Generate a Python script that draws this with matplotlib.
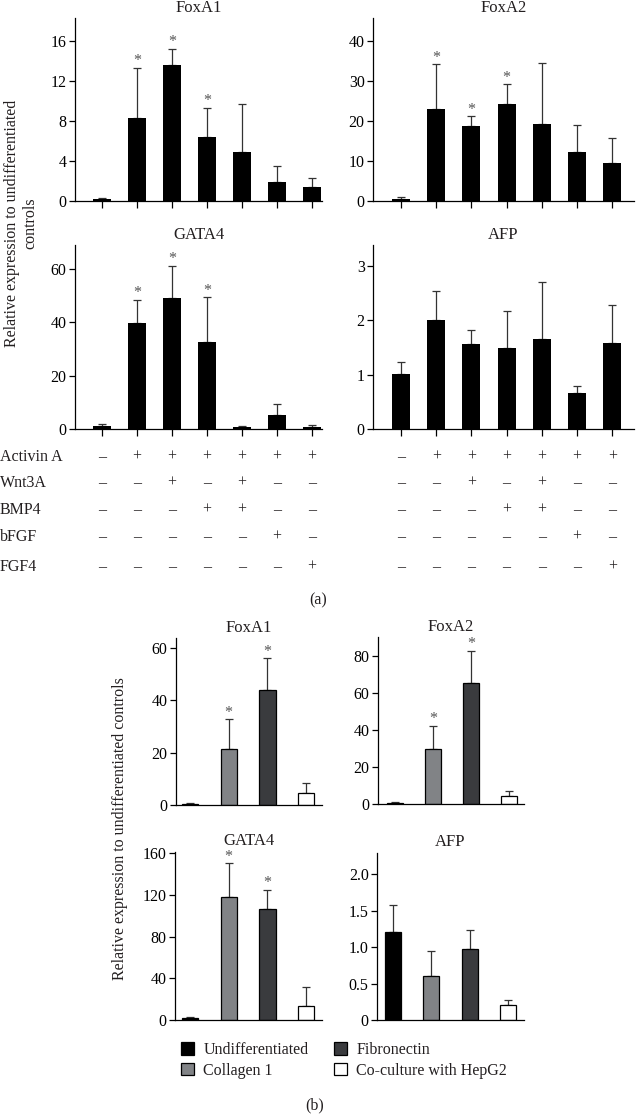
import numpy as np
import matplotlib
matplotlib.use("Agg")
import matplotlib.pyplot as plt
from matplotlib.patches import Patch
import matplotlib.transforms as mtransforms

plt.rcParams['font.family'] = ['Liberation Serif', 'DejaVu Serif']
plt.rcParams['font.size'] = 11.5
plt.rcParams['text.color'] = '#231f20'
plt.rcParams['axes.linewidth'] = 0.9

# ---- data, panel (a): 7 treatment conditions ----
foxa1_a = [0.2, 8.35, 13.65, 6.4, 4.9, 1.95, 1.45]
foxa1_a_top = [0.35, 13.3, 15.25, 9.3, 9.75, 3.55, 2.3]
foxa2_a = [0.4, 22.9, 18.8, 24.2, 19.3, 12.3, 9.4]
foxa2_a_top = [1.0, 34.2, 21.2, 29.2, 34.5, 19.0, 15.8]
gata4_a = [1.1, 39.7, 49.3, 32.7, 0.9, 5.2, 0.75]
gata4_a_top = [2.0, 48.5, 61.1, 49.4, 1.2, 9.2, 1.6]
afp_a = [1.02, 2.01, 1.56, 1.50, 1.66, 0.66, 1.59]
afp_a_top = [1.24, 2.55, 1.83, 2.18, 2.70, 0.79, 2.28]
stars_a = {'FoxA1': [1, 2, 3], 'FoxA2': [1, 2, 3], 'GATA4': [1, 2, 3], 'AFP': []}

factors = ['Activin A', 'Wnt3A', 'BMP4', 'bFGF', 'FGF4']
table = [
    [0, 1, 1, 1, 1, 1, 1],
    [0, 0, 1, 0, 1, 0, 0],
    [0, 0, 0, 1, 1, 0, 0],
    [0, 0, 0, 0, 0, 1, 0],
    [0, 0, 0, 0, 0, 0, 1],
]

# ---- data, panel (b): 4 culture conditions ----
groups_b = ['Undifferentiated', 'Collagen 1', 'Fibronectin', 'Co-culture with HepG2']
colors_b = ['#000000', '#818386', '#3a3b3e', '#ffffff']
foxa1_b = [0.4, 21.4, 43.9, 4.6]
foxa1_b_top = [0.9, 32.8, 56.1, 8.5]
foxa2_b = [0.5, 30.0, 65.6, 4.5]
foxa2_b_top = [1.3, 42.2, 82.9, 6.8]
gata4_b = [1.5, 118.0, 106.6, 13.0]
gata4_b_top = [2.5, 150.0, 125.0, 31.7]
afp_b = [1.20, 0.61, 0.97, 0.21]
afp_b_top = [1.58, 0.94, 1.24, 0.275]
stars_b = {'FoxA1': [1, 2], 'FoxA2': [1, 2], 'GATA4': [1, 2], 'AFP': []}

W, H = 636, 1114
fig = plt.figure(figsize=(W / 100, H / 100), dpi=100)


def add_ax(L, T, R, B):
    return fig.add_axes([L / W, 1 - B / H, (R - L) / W, (B - T) / H])


def style(ax, xticks):
    for s in ['top', 'right']:
        ax.spines[s].set_visible(False)
    ax.tick_params(axis='y', direction='out', length=4, width=0.9, pad=2, labelsize=11.5)
    if xticks:
        ax.tick_params(axis='x', direction='out', length=5, width=0.9, labelbottom=False)
    else:
        ax.tick_params(axis='x', length=0, labelbottom=False)


def panel(ax, title, vals, tops, stars, colors, width, ylim, yticks, ylabels, xlim, edge, xticks,
          tpad=4):
    x = np.arange(len(vals))
    err = np.array(tops) - np.array(vals)
    ax.errorbar(x, vals, yerr=[np.zeros(len(vals)), err], fmt='none', ecolor='#333333',
                elinewidth=0.9, capsize=3, capthick=0.9, zorder=1)
    ax.bar(x, vals, width=width, color=colors, edgecolor='black' if edge else colors,
           linewidth=0.9 if edge else 0, zorder=2)
    for i in stars:
        ax.annotate('*', (x[i], tops[i]), xytext=(0, -1), textcoords='offset points',
                    ha='center', va='bottom', fontsize=11.5, color='#555555')
    ax.set_xlim(*xlim)
    ax.set_ylim(*ylim)
    ax.set_yticks(yticks)
    ax.set_yticklabels(ylabels)
    ax.set_xticks(x if xticks else [])
    ax.set_title(title, fontsize=12, pad=tpad)
    style(ax, xticks)


def xl(L, R, c0, s):
    return ((L - c0) / s, (R - c0) / s)


black7 = ['#000000'] * 7

ax1 = add_ax(75, 18, 322, 201)
panel(ax1, 'FoxA1', foxa1_a, foxa1_a_top, stars_a['FoxA1'], black7, 0.51, (0, 18.3),
      [0, 4, 8, 12, 16], ['0', '4', '8', '12', '16'], xl(75, 322, 102, 35), False, True)
ax2 = add_ax(373, 18, 634, 201)
panel(ax2, 'FoxA2', foxa2_a, foxa2_a_top, stars_a['FoxA2'], black7, 0.51, (0, 45.75),
      [0, 10, 20, 30, 40], ['0', '10', '20', '30', '40'], xl(373, 634, 401, 35.2), False, True)
ax3 = add_ax(75, 245, 322, 429)
panel(ax3, 'GATA4', gata4_a, gata4_a_top, stars_a['GATA4'], black7, 0.51, (0, 69),
      [0, 20, 40, 60], ['0', '20', '40', '60'], xl(75, 322, 102, 35), False, True)
ax4 = add_ax(373, 245, 634, 429)
panel(ax4, 'AFP', afp_a, afp_a_top, stars_a['AFP'], black7, 0.51, (0, 3.39),
      [0, 1, 2, 3], ['0', '1', '2', '3'], xl(373, 634, 401, 35.2), False, True)

fig.text(12 / W, 1 - 223 / H, 'Relative expression to undifferentiated', rotation=90,
         ha='center', va='center', fontsize=11.5)
fig.text(30 / W, 1 - 223 / H, 'controls', rotation=90, ha='center', va='center', fontsize=11.5)

# treatment table
row_y = [457, 483, 510, 537, 567]
for r, name in enumerate(factors):
    fig.text(0 / W, 1 - row_y[r] / H, name, ha='left', va='center', fontsize=11.5)
    for ax in (ax3, ax4):
        tr = mtransforms.blended_transform_factory(ax.transData, fig.transFigure)
        for c, v in enumerate(table[r]):
            ax.text(c, 1 - row_y[r] / H, '+' if v else '\u2013', transform=tr,
                    ha='center', va='center', fontsize=11.5, clip_on=False)

fig.text(318 / W, 1 - 600 / H, '(a)', ha='center', va='center', fontsize=11.5)

# panel (b)
bx1 = add_ax(176, 638, 322, 805)
panel(bx1, 'FoxA1', foxa1_b, foxa1_b_top, stars_b['FoxA1'], colors_b, 0.42, (0, 63.8),
      [0, 20, 40, 60], ['0', '20', '40', '60'], xl(176, 322, 190, 38.7), True, False)
bx2 = add_ax(378, 637, 524, 804)
panel(bx2, 'FoxA2', foxa2_b, foxa2_b_top, stars_b['FoxA2'], colors_b, 0.42, (0, 90.3),
      [0, 20, 40, 60, 80], ['0', '20', '40', '60', '80'], xl(378, 524, 395, 38), True, False)
bx3 = add_ax(175, 852, 322, 1020)
panel(bx3, 'GATA4', gata4_b, gata4_b_top, stars_b['GATA4'], colors_b, 0.42, (0, 161),
      [0, 40, 80, 120, 160], ['0', '40', '80', '120', '160'], xl(175, 322, 190, 38.7), True, False,
      tpad=5)
bx4 = add_ax(377, 853, 524, 1020)
panel(bx4, 'AFP', afp_b, afp_b_top, stars_b['AFP'], colors_b, 0.42, (0, 2.29),
      [0, 0.5, 1.0, 1.5, 2.0], ['0', '0.5', '1.0', '1.5', '2.0'], xl(377, 524, 393, 38.3), True, False,
      tpad=5)

fig.text(120 / W, 1 - 829 / H, 'Relative expression to undifferentiated controls', rotation=90,
         ha='center', va='center', fontsize=11.5)

handles = [Patch(facecolor=c, edgecolor='black', linewidth=0.9) for c in colors_b]
fig.legend(handles, groups_b, ncol=2, loc='upper left', bbox_to_anchor=(181 / W, 1 - 1042 / H),
           frameon=False, fontsize=11.5, handlelength=0.8, handleheight=0.8,
           handletextpad=0.6, columnspacing=1.6, labelspacing=0.3,
           borderpad=0, borderaxespad=0)

fig.text(315 / W, 1 - 1105 / H, '(b)', ha='center', va='center', fontsize=11.5)

fig.savefig('out.png', dpi=100)
